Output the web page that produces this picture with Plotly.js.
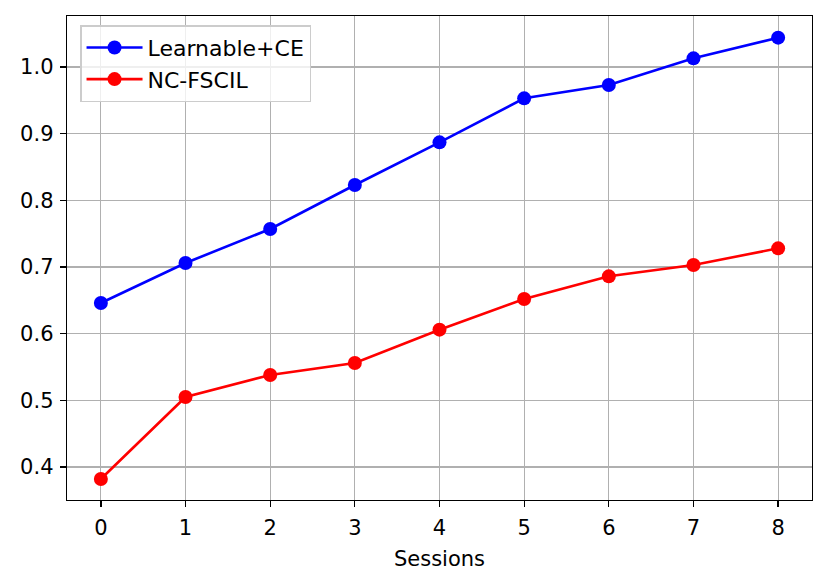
<!DOCTYPE html>
<html>
<head>
<meta charset="utf-8">
<script src="https://cdn.plot.ly/plotly-3.0.1.min.js"></script>
<style>html,body{margin:0;padding:0;background:#fff;}#chart{width:831px;height:585px;}</style>
</head>
<body>
<div id="chart"></div>
<script>
const sessions = [0, 1, 2, 3, 4, 5, 6, 7, 8];
const learnableCE = [0.646, 0.706, 0.757, 0.823, 0.887, 0.953, 0.973, 1.013, 1.044];
const ncFscil = [0.382, 0.505, 0.538, 0.556, 0.606, 0.652, 0.686, 0.703, 0.728];
const yTicks = [0.4, 0.5, 0.6, 0.7, 0.8, 0.9, 1.0];
const yTickLabels = ['0.4', '0.5', '0.6', '0.7', '0.8', '0.9', '1.0'];

const font = {family: 'DejaVu Sans, sans-serif', size: 21, color: '#000'};

const traces = [
  {x: sessions, y: learnableCE, name: 'Learnable+CE', mode: 'lines+markers',
   line: {color: '#0000ff', width: 2.6}, marker: {color: '#0000ff', size: 14}},
  {x: sessions, y: ncFscil, name: 'NC-FSCIL', mode: 'lines+markers',
   line: {color: '#ff0000', width: 2.6}, marker: {color: '#ff0000', size: 14}}
];

const layout = {
  width: 831, height: 585,
  margin: {l: 67, r: 19, t: 16, b: 85},
  paper_bgcolor: '#fff', plot_bgcolor: '#fff',
  font: font,
  showlegend: true,
  legend: {x: 0.0175, y: 0.981, xanchor: 'left', yanchor: 'top',
           bgcolor: 'rgba(255,255,255,0.8)', bordercolor: '#cccccc', borderwidth: 1.5,
           itemwidth: 56,
           font: {family: 'DejaVu Sans, sans-serif', size: 22, color: '#000'}},
  xaxis: {
    range: [-0.4, 8.4], tickvals: sessions, ticktext: sessions.map(String),
    showgrid: true, gridcolor: '#b0b0b0', gridwidth: 1.2,
    showline: true, linecolor: '#000', linewidth: 1.3, mirror: true,
    ticks: 'outside', ticklen: 6, tickwidth: 1.3, tickcolor: '#000',
    ticklabelstandoff: 2,
    zeroline: false,
    title: {text: 'Sessions', font: font, standoff: 12}
  },
  yaxis: {
    range: [0.3505, 1.0765], tickvals: yTicks, ticktext: yTickLabels,
    showgrid: true, gridcolor: '#b0b0b0', gridwidth: 1.2,
    showline: true, linecolor: '#000', linewidth: 1.3, mirror: true,
    ticks: 'outside', ticklen: 6, tickwidth: 1.3, tickcolor: '#000',
    ticklabelstandoff: 2,
    zeroline: false
  }
};

Plotly.newPlot('chart', traces, layout, {displayModeBar: false, staticPlot: true});
</script>
</body>
</html>
